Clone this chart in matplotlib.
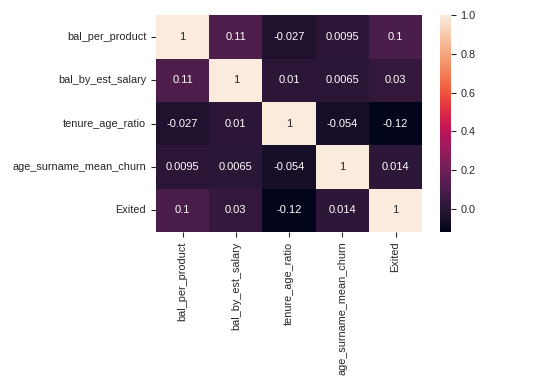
import numpy as np
import pandas as pd
import matplotlib
matplotlib.use("Agg")
import matplotlib.pyplot as plt
import seaborn as sns

labels = ["bal_per_product", "bal_by_est_salary", "tenure_age_ratio",
          "age_surname_mean_churn", "Exited"]
row_bal_per_product = [1, 0.11, -0.027, 0.0095, 0.1]
row_bal_by_est_salary = [0.11, 1, 0.01, 0.0065, 0.03]
row_tenure_age_ratio = [-0.027, 0.01, 1, -0.054, -0.12]
row_age_surname_mean_churn = [0.0095, 0.0065, -0.054, 1, 0.014]
row_exited = [0.1, 0.03, -0.12, 0.014, 1]

corr = pd.DataFrame([row_bal_per_product, row_bal_by_est_salary,
                     row_tenure_age_ratio, row_age_surname_mean_churn,
                     row_exited], index=labels, columns=labels)

sns.set_theme(style="ticks")
plt.rcParams['font.family'] = ['Liberation Sans', 'DejaVu Sans']

fig = plt.figure(figsize=(5.49, 3.88), dpi=100)
ax = fig.add_axes([0.284, 0.402, 0.485, 0.559])
cax = fig.add_axes([0.801, 0.402, 0.020, 0.559])
sns.heatmap(corr, annot=True, fmt=".2g", ax=ax, cbar_ax=cax,
            annot_kws={"fontsize": 8})
for a in (ax, cax):
    a.tick_params(labelsize=7.8, length=3.5, width=0.8, color="#262626",
                  labelcolor="#262626")
ax.set_yticklabels(labels, rotation=0)
ax.set_xticklabels(labels, rotation=90)
fig.savefig("out.png", dpi=100)
